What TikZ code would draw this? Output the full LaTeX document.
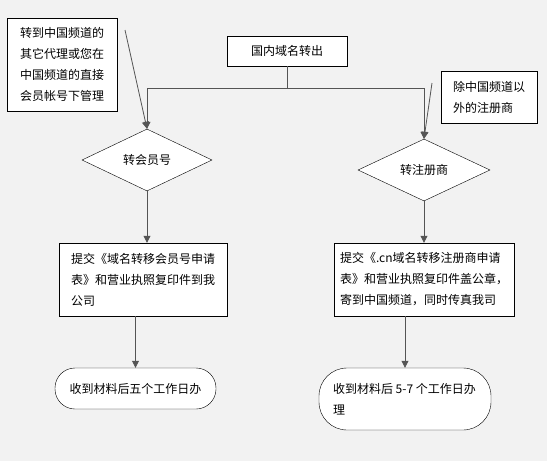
\documentclass[tikz,border=0pt]{standalone}
\usepackage{fontspec}
\setmainfont{Noto Sans CJK SC}
\usepackage{xcolor}
\usetikzlibrary{arrows.meta,shapes.geometric,calc}

\definecolor{pagebg}{HTML}{F2F2F2}
\definecolor{linegray}{HTML}{555555}

\begin{document}
\begin{tikzpicture}[
    x=1pt, y=-1pt,
    every node/.style={font=\fontsize{12}{21}\selectfont},
    plainbox/.style={
      rectangle, draw=black, fill=white, inner sep=0pt, align=left
    },
    choice/.style={
      diamond, draw=black, fill=white, inner sep=0pt, aspect=2.1
    },
    endbox/.style={
      rectangle, draw=black, fill=white, inner sep=0pt, align=left
    },
    arr/.style={-{Triangle[length=7pt,width=7pt]}, linegray, thick},
    conn/.style={linegray, thick}
  ]
    \fill[pagebg] (0,0) rectangle (547,461);
    \useasboundingbox (0,0) rectangle (547,461);

    % top
    \node[plainbox, minimum width=120pt, minimum height=30pt] (start) at (287,51) {国内域名转出};
    \node[plainbox, minimum width=110pt, minimum height=93pt] (notel) at (62,64.5)
      {转到中国频道的\\其它代理或您在\\中国频道的直接\\会员帐号下管理};
    \node[plainbox, minimum width=96pt, minimum height=52pt] (noter) at (489,97)
      {除中国频道以\\外的注册商};

    % two branches
    \node[choice, minimum width=130pt, minimum height=62pt] (member) at (147,160) {转会员号};
    \node[choice, minimum width=132pt, minimum height=62pt] (registrar) at (424,170) {转注册商};

    \node[plainbox, minimum width=168pt, minimum height=73pt] (forml) at (143,279.5)
      {提交《域名转移会员号申请\\表》和营业执照复印件到我\\公司};
    \node[plainbox, minimum width=180pt, minimum height=73pt] (formr) at (424,279.5)
      {提交《.cn域名转移注册商申请\\表》和营业执照复印件盖公章，\\寄到中国频道，同时传真我司};

    \node[endbox, rounded corners=20pt, minimum width=161pt, minimum height=41pt] (donel) at (135.5,388.5)
      {收到材料后五个工作日办};
    \node[endbox, rounded corners=28pt, minimum width=172pt, minimum height=62pt] (doner) at (405,399)
      {收到材料后 5-7 个工作日办\\理\hspace*{132pt}};

    \coordinate (split) at (287,88);
    \coordinate (notelend) at (125,30);
    \coordinate (noterend) at (432,83);

    \draw[conn] (start) -- (split);
    \draw[conn] (member |- split) -- (registrar |- split);
    \draw[arr] (member |- split) -- (member);
    \draw[arr] (registrar |- split) -- (registrar);
    \draw[arr] (notelend) -- (member.north);
    \draw[arr] (noterend) -- (registrar.north);

    \draw[arr] (member) -- (forml.north -| member);
    \draw[arr] (registrar) -- (formr);
    \draw[arr] (forml.south -| donel) -- (donel);
    \draw[arr] (formr.south -| doner) -- (doner);
  \end{tikzpicture}
\end{document}
